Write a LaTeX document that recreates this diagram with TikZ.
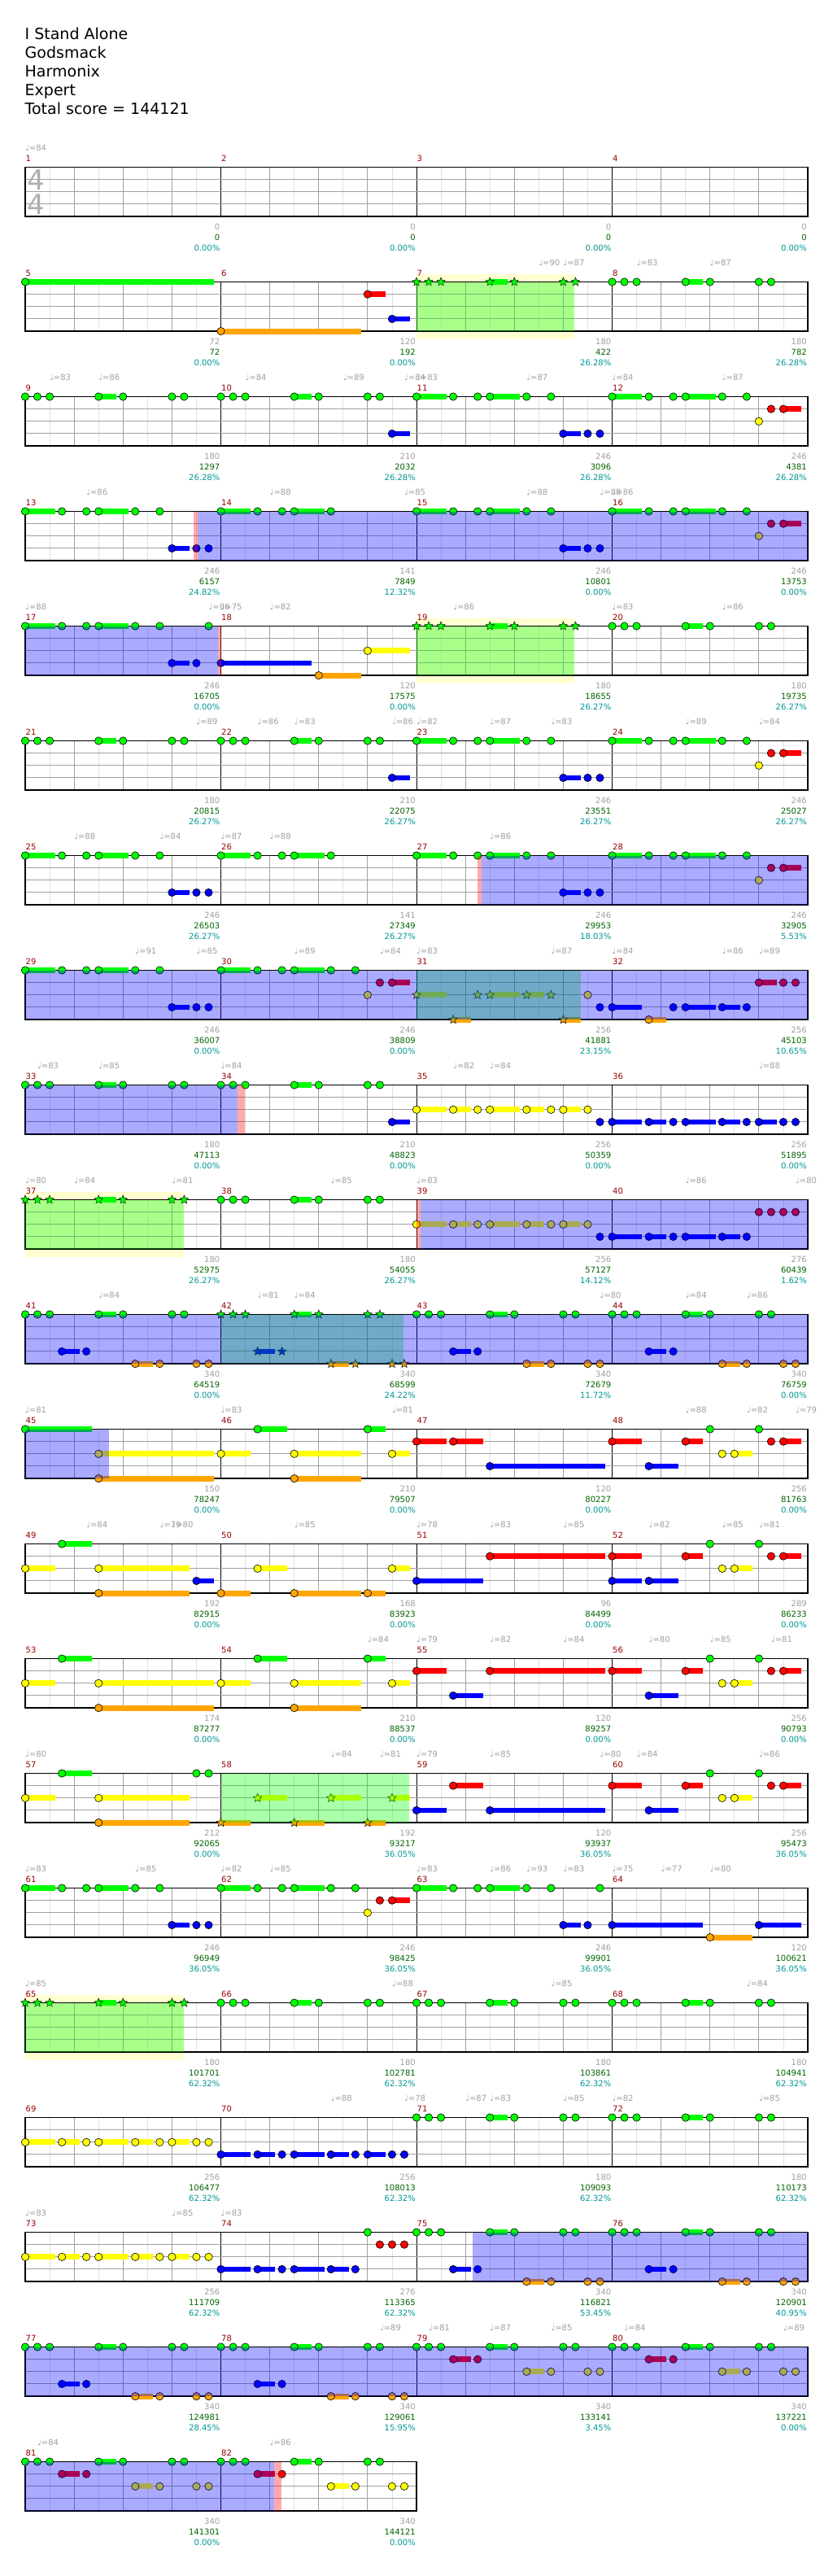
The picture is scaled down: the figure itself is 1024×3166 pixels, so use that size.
\documentclass[tikz,border=0pt]{standalone}
\usepackage{fontspec}
\setmainfont{DejaVu Sans}
\usetikzlibrary{shapes.geometric}
\definecolor{lane0}{RGB}{0,255,0}
\definecolor{lane1}{RGB}{255,0,0}
\definecolor{lane2}{RGB}{255,255,0}
\definecolor{lane3}{RGB}{0,0,255}
\definecolor{lane4}{RGB}{255,165,0}
\definecolor{barnumred}{RGB}{150,0,0}
\definecolor{scoregreen}{RGB}{0,100,0}
\definecolor{pctteal}{RGB}{0,150,150}
\definecolor{softgray}{RGB}{160,160,160}
\definecolor{siggray}{RGB}{175,175,175}
\definecolor{eighthgray}{RGB}{225,225,225}
\definecolor{bandyellow}{RGB}{255,255,208}

\tikzset{
  notehead/.style={draw=black, line width=0.6pt},
  starnote/.style={star, star points=5, star point ratio=2.2, minimum size=11pt, inner sep=0pt, draw=black, line width=0.5pt},
  eighthline/.style={draw=eighthgray, line width=0.8pt},
  beatline/.style={draw=softgray, line width=0.8pt},
  barline/.style={draw=black, line width=1pt},
  laneline/.style={draw=softgray, line width=1pt},
  staffline/.style={draw=black, line width=1.5pt},
  spgreen/.style={fill=lane0, fill opacity=0.333},
  odblue/.style={fill=lane3, fill opacity=0.333},
  odmark/.style={fill=lane1, fill opacity=0.333},
  titletext/.style={font=\fontsize{19}{23}\selectfont, inner sep=0pt, anchor=base west},
  mnum/.style={text=barnumred, font=\fontsize{10}{12}\selectfont, inner sep=0pt, anchor=base west},
  lennum/.style={text=softgray, font=\fontsize{10}{12}\selectfont, inner sep=0pt, anchor=base east},
  scorenum/.style={text=scoregreen, font=\fontsize{10}{12}\selectfont, inner sep=0pt, anchor=base east},
  pctnum/.style={text=pctteal, font=\fontsize{10}{12}\selectfont, inner sep=0pt, anchor=base east},
  tempo/.style={text=softgray, font=\fontsize{10}{12}\selectfont, inner sep=0pt, anchor=base west},
  timesig/.style={text=siggray, font=\fontsize{34}{40}\selectfont, inner sep=0pt}
}

% one staff row: #1 row, #2 number of measures
\newcommand{\staff}[2]{%
  \pgfmathsetmacro{\sya}{205.5+(#1-1)*141}%
  \pgfmathsetmacro{\syb}{\sya+60.6}%
  \pgfmathsetmacro{\sxb}{31+#2*240.5}%
  \pgfmathtruncatemacro{\neig}{#2*8-1}%
  \pgfmathtruncatemacro{\nbeat}{#2*4-1}%
  \pgfmathtruncatemacro{\nbar}{#2-1}%
  \foreach \k in {1,3,...,\neig} \draw[eighthline] ({31+\k*30.0625},\sya) -- ({31+\k*30.0625},\syb);
  \foreach \k in {1,...,\nbeat} \draw[beatline] ({31+\k*60.125},\sya) -- ({31+\k*60.125},\syb);
  \foreach \k in {1,...,\nbar} \draw[barline] ({31+\k*240.5},\sya) -- ({31+\k*240.5},\syb);
  \foreach \l in {1,2,3} \draw[laneline] (31,{\sya+\l*15.15}) -- (\sxb,{\sya+\l*15.15});
  \draw[staffline] (31,\sya) rectangle (\sxb,\syb);
}

% notes of one measure: [1] = star notes, #2 measure, #3 list lane/pos/sustain
\newcommand{\meas}[3][0]{%
  \pgfmathtruncatemacro{\mcol}{mod(#2-1,4)}%
  \pgfmathtruncatemacro{\mrow}{(#2-1)/4}%
  \pgfmathsetmacro{\mxa}{31+\mcol*240.5}%
  \pgfmathsetmacro{\mya}{205.5+\mrow*141}%
  \edef\nlist{#3}%
  \foreach \nl/\np/\ns in \nlist {%
    \pgfmathsetmacro{\nx}{\mxa+\np*15.03125}%
    \pgfmathsetmacro{\ny}{\mya+\nl*15.15}%
    \ifnum\ns>0\relax
      \pgfmathsetmacro{\ex}{\mxa+(\np+\ns-0.55)*15.03125}%
      \fill[lane\nl] (\nx,{\ny-3.4}) rectangle (\ex,{\ny+3.4});
    \fi
    \ifnum#1=1\relax
      \node[starnote, fill=lane\nl] (st#2p\np l\nl) at (\nx,\ny) {};
    \else
      \draw[notehead, fill=lane\nl] (\nx,\ny) circle[radius=4.7];
    \fi
  }%
}

% shaded part of a row: #1 style, #2 row, #3 from, #4 to (in sixteenths)
\newcommand{\ovl}[4]{%
  \pgfmathsetmacro{\oya}{205.5+(#2-1)*141}%
  \fill[#1] ({31+#3*15.03125},\oya) rectangle ({31+#4*15.03125},{\oya+60.6});
}
\newcommand{\band}[3]{%
  \pgfmathsetmacro{\oya}{205.5+(#1-1)*141}%
  \fill[bandyellow] ({31+#2*15.03125},{\oya-10}) rectangle ({31+#3*15.03125},{\oya+70.6});
}

\def\riffA{0/0/0,0/1/0,0/2/0,0/6/2,0/8/0,0/12/0,0/13/0}
\def\riffB{0/0/3,0/3/0,0/5/0,0/6/3,0/9/0,0/11/0,3/12/2,3/14/0,3/15/0}
\def\riffBg{0/0/3,0/3/0,0/5/0,0/6/3,0/9/0,0/11/0,3/12/2,3/14/0,0/15/0}
\def\riffC{0/0/3,0/3/0,0/5/0,0/6/3,0/9/0,0/11/0,2/12/0,1/13/0,1/14/2}
\def\riffH{0/0/3,0/3/0,0/5/0,0/6/3,0/9/0}
\def\riffD{\riffA,3/3/2,3/5/0,4/9/2,4/11/0,4/14/0,4/15/0}
\def\riffE{\riffA,1/3/2,1/5/0,2/9/2,2/11/0,2/14/0,2/15/0}
\def\riffK{1/0/3,3/3/3,1/6/2,0/8/0,2/9/0,2/10/2,0/12/0,1/13/0,1/14/2}
\def\runY{2/0/3,2/3/2,2/5/0,2/6/3,2/9/2,2/11/0,2/12/2,2/14/0}
\def\runB{3/0/3,3/3/2,3/5/0,3/6/3,3/9/2,3/11/0}

\begin{document}
\begin{tikzpicture}[x=1pt, y=-1pt]
\fill[white] (0,0) rectangle (1024,3166);
\useasboundingbox (0,0) rectangle (1024,3166);

\node[titletext] (song) at (30.5,49) {I Stand Alone};
\node[titletext] (artist) at (30.5,72) {Godsmack};
\node[titletext] (charter) at (30.5,95) {Harmonix};
\node[titletext] (level) at (30.5,118) {Expert};
\node[titletext] (total) at (30.5,141) {Total score = 144121};

% star power phrases
\band{2}{32}{44.93}
\band{5}{32}{44.93}
\band{10}{0}{12.97}
\band{17}{0}{12.97}

\foreach \r in {1,...,20} {\staff{\r}{4}}
\staff{21}{2}

\node[timesig] (sigtop) at (44,221) {4};
\node[timesig] (sigbot) at (44,251) {4};

% notes
\meas{5}{0/0/16}
\meas{6}{4/0/12,1/12/2,3/14/2}
\meas[1]{7}{\riffA}
\meas{8}{\riffA}
\meas{9}{\riffA}
\meas{10}{\riffA,3/14/2}
\meas{11}{\riffB}
\meas{12}{\riffC}
\meas{13}{\riffB}
\meas{14}{\riffH}
\meas{15}{\riffB}
\meas{16}{\riffC}
\meas{17}{\riffBg}
\meas{18}{3/0/8,4/8/4,2/12/4}
\meas[1]{19}{\riffA}
\meas{20}{\riffA}
\meas{21}{\riffA}
\meas{22}{\riffA,3/14/2}
\meas{23}{\riffB}
\meas{24}{\riffC}
\meas{25}{\riffB}
\meas{26}{\riffH}
\meas{27}{\riffB}
\meas{28}{\riffC}
\meas{29}{\riffB}
\meas{30}{\riffC}
\meas[1]{31}{2/0/3,4/3/2,2/5/0,2/6/3,2/9/2,2/11/0,4/12/2}
\meas{31}{2/14/0,3/15/0}
\meas{32}{3/0/3,4/3/2,3/5/0,3/6/3,3/9/2,3/11/0,1/12/2,1/14/0,1/15/0}
\meas{33}{\riffA}
\meas{34}{\riffA,3/14/2}
\meas{35}{\runY,3/15/0}
\meas{36}{\runB,3/12/2,3/14/0,3/15/0}
\meas[1]{37}{\riffA}
\meas{38}{\riffA}
\meas{39}{\runY,3/15/0}
\meas{40}{\runB,1/12/0,1/13/0,1/14/0,1/15/0}
\meas{41}{\riffD}
\meas[1]{42}{\riffD}
\meas{43}{\riffD}
\meas{44}{\riffD}
\meas{45}{0/0/6,2/6/10,4/6/10}
\meas{46}{2/0/3,0/3/3,2/6/6,4/6/6,0/12/2,2/14/2}
\meas{47}{1/0/3,1/3/3,3/6/10}
\meas{48}{\riffK}
\meas{49}{2/0/3,0/3/3,2/6/8,4/6/8,3/14/2}
\meas{50}{4/0/3,2/3/3,4/6/6,4/12/2,2/14/2}
\meas{51}{3/0/6,1/6/10}
\meas{52}{3/0/3,\riffK}
\meas{53}{2/0/3,0/3/3,2/6/10,4/6/10}
\meas{54}{2/0/3,0/3/3,2/6/6,4/6/6,0/12/2,2/14/2}
\meas{55}{1/0/3,3/3/3,1/6/10}
\meas{56}{\riffK}
\meas{57}{2/0/3,0/3/3,2/6/8,4/6/8,0/14/0,0/15/0}
\meas[1]{58}{4/0/3,2/3/3,4/6/3,2/9/3,4/12/2,2/14/2}
\meas{59}{3/0/3,1/3/3,3/6/10}
\meas{60}{\riffK}
\meas{61}{\riffB}
\meas{62}{\riffC}
\meas{63}{\riffBg}
\meas{64}{3/0/8,4/8/4,3/12/4}
\meas[1]{65}{\riffA}
\meas{66}{\riffA}
\meas{67}{\riffA}
\meas{68}{\riffA}
\meas{69}{\runY,2/15/0}
\meas{70}{\runB,3/12/2,3/14/0,3/15/0}
\meas{71}{\riffA}
\meas{72}{\riffA}
\meas{73}{\runY,2/15/0}
\meas{74}{\runB,0/12/0,1/13/0,1/14/0,1/15/0}
\meas{75}{\riffD}
\meas{76}{\riffD}
\meas{77}{\riffD}
\meas{78}{\riffD}
\meas{79}{\riffE}
\meas{80}{\riffE}
\meas{81}{\riffE}
\meas{82}{\riffE}

% star power (green) and overdrive (blue)
\ovl{spgreen}{2}{32}{44.93}
\ovl{spgreen}{5}{32}{44.93}
\ovl{spgreen}{8}{32}{45.45}
\ovl{spgreen}{10}{0}{12.97}
\ovl{spgreen}{11}{16}{30.93}
\ovl{spgreen}{15}{16}{31.43}
\ovl{spgreen}{17}{0}{12.97}
\ovl{odblue}{4}{14.1}{64}
\ovl{odblue}{5}{0}{15.75}
\ovl{odblue}{7}{37.35}{64}
\ovl{odblue}{8}{0}{64}
\ovl{odblue}{9}{0}{17.37}
\ovl{odblue}{10}{32.3}{64}
\ovl{odblue}{11}{0}{64}
\ovl{odblue}{12}{0}{6.88}
\ovl{odblue}{19}{36.57}{64}
\ovl{odblue}{20}{0}{64}
\ovl{odblue}{21}{0}{20.33}
\ovl{odmark}{4}{13.8}{14.1}
\ovl{odmark}{5}{15.75}{16.02}
\ovl{odmark}{7}{37.0}{37.35}
\ovl{odmark}{9}{17.37}{17.98}
\ovl{odmark}{10}{32.0}{32.3}
\ovl{odmark}{21}{20.33}{20.94}

% measure numbers and scores
\foreach \m/\glen/\scr/\pct in {
  1/0/0/0.00, 2/0/0/0.00, 3/0/0/0.00, 4/0/0/0.00,
  5/72/72/0.00, 6/120/192/0.00, 7/180/422/26.28, 8/180/782/26.28,
  9/180/1297/26.28, 10/210/2032/26.28, 11/246/3096/26.28, 12/246/4381/26.28,
  13/246/6157/24.82, 14/141/7849/12.32, 15/246/10801/0.00, 16/246/13753/0.00,
  17/246/16705/0.00, 18/120/17575/0.00, 19/180/18655/26.27, 20/180/19735/26.27,
  21/180/20815/26.27, 22/210/22075/26.27, 23/246/23551/26.27, 24/246/25027/26.27,
  25/246/26503/26.27, 26/141/27349/26.27, 27/246/29953/18.03, 28/246/32905/5.53,
  29/246/36007/0.00, 30/246/38809/0.00, 31/256/41881/23.15, 32/256/45103/10.65,
  33/180/47113/0.00, 34/210/48823/0.00, 35/256/50359/0.00, 36/256/51895/0.00,
  37/180/52975/26.27, 38/180/54055/26.27, 39/256/57127/14.12, 40/276/60439/1.62,
  41/340/64519/0.00, 42/340/68599/24.22, 43/340/72679/11.72, 44/340/76759/0.00,
  45/150/78247/0.00, 46/210/79507/0.00, 47/120/80227/0.00, 48/256/81763/0.00,
  49/192/82915/0.00, 50/168/83923/0.00, 51/96/84499/0.00, 52/289/86233/0.00,
  53/174/87277/0.00, 54/210/88537/0.00, 55/120/89257/0.00, 56/256/90793/0.00,
  57/212/92065/0.00, 58/192/93217/36.05, 59/120/93937/36.05, 60/256/95473/36.05,
  61/246/96949/36.05, 62/246/98425/36.05, 63/246/99901/36.05, 64/120/100621/36.05,
  65/180/101701/62.32, 66/180/102781/62.32, 67/180/103861/62.32, 68/180/104941/62.32,
  69/256/106477/62.32, 70/256/108013/62.32, 71/180/109093/62.32, 72/180/110173/62.32,
  73/256/111709/62.32, 74/276/113365/62.32, 75/340/116821/53.45, 76/340/120901/40.95,
  77/340/124981/28.45, 78/340/129061/15.95, 79/340/133141/3.45, 80/340/137221/0.00,
  81/340/141301/0.00, 82/340/144121/0.00} {
  \pgfmathtruncatemacro{\mcol}{mod(\m-1,4)}
  \pgfmathtruncatemacro{\mrow}{(\m-1)/4}
  \pgfmathsetmacro{\xs}{31+\mcol*240.5}
  \pgfmathsetmacro{\xe}{\xs+240.5}
  \pgfmathsetmacro{\yt}{205.5+\mrow*141}
  \node[mnum] (num\m) at ({\xs+0.5},{\yt-7.5}) {\m};
  \node[lennum] (len\m) at ({\xe-1},{\yt+77}) {\glen};
  \node[scorenum] (scr\m) at ({\xe-1},{\yt+90}) {\scr};
  \node[pctnum] (pct\m) at ({\xe-1},{\yt+103}) {\pct\%};
}

% tempo marks: row/sixteenth/bpm
\foreach \r/\u/\bpm in {
  1/0/84,
  2/42/90, 2/44/87, 2/50/83, 2/56/87,
  3/2/83, 3/6/86, 3/18/84, 3/26/89, 3/31/84, 3/32/83, 3/41/87, 3/48/84, 3/57/87,
  4/5/86, 4/20/88, 4/31/85, 4/41/88, 4/47/88, 4/48/86,
  5/0/88, 5/15/86, 5/16/75, 5/20/82, 5/35/86, 5/48/83, 5/57/86,
  6/14/89, 6/19/86, 6/22/83, 6/30/86, 6/32/82, 6/38/87, 6/43/83, 6/54/89, 6/60/84,
  7/4/88, 7/11/84, 7/16/87, 7/20/88, 7/38/86,
  8/9/91, 8/14/85, 8/22/89, 8/29/84, 8/32/83, 8/43/87, 8/48/84, 8/57/86, 8/60/89,
  9/1/83, 9/6/85, 9/16/84, 9/35/82, 9/38/84, 9/60/88,
  10/0/80, 10/4/84, 10/12/81, 10/25/85, 10/32/83, 10/54/86, 10/63/80,
  11/6/84, 11/19/81, 11/22/84, 11/47/80, 11/54/84, 11/59/86,
  12/0/81, 12/16/83, 12/30/81, 12/54/88, 12/59/82, 12/63/79,
  13/5/84, 13/11/79, 13/12/80, 13/22/85, 13/32/78, 13/38/83, 13/44/85, 13/51/82, 13/57/85, 13/60/81,
  14/28/84, 14/32/79, 14/38/82, 14/44/84, 14/51/80, 14/56/85, 14/61/81,
  15/0/80, 15/25/84, 15/29/81, 15/32/79, 15/38/85, 15/47/80, 15/50/84, 15/60/86,
  16/0/83, 16/9/85, 16/16/82, 16/20/85, 16/32/83, 16/38/86, 16/41/93, 16/44/83, 16/48/75, 16/52/77, 16/56/80,
  17/0/85, 17/30/88, 17/43/85, 17/59/84,
  18/25/88, 18/31/78, 18/36/87, 18/38/83, 18/44/85, 18/48/82, 18/60/85,
  19/0/83, 19/12/85, 19/16/83,
  20/29/89, 20/33/81, 20/38/87, 20/43/85, 20/49/84, 20/62/89,
  21/1/84, 21/20/86} {
  \pgfmathsetmacro{\tx}{31+\u*15.03125}
  \pgfmathsetmacro{\ty}{205.5+(\r-1)*141-20.5}
  \node[tempo] (bpm\r x\u) at (\tx,\ty) {♩=\bpm};
}
\end{tikzpicture}
\end{document}
